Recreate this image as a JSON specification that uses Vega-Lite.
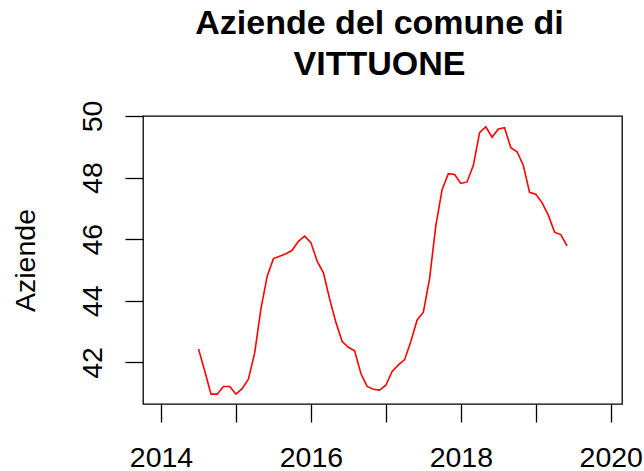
{
  "$schema": "https://vega.github.io/schema/vega-lite/v6.json",
  "width": 479,
  "height": 288,
  "autosize": {"type": "none"},
  "padding": {"left": 143, "top": 116, "right": 22, "bottom": 67},
  "background": "white",
  "title": {
    "text": ["Aziende del comune di", "VITTUONE"],
    "fontSize": 34,
    "fontWeight": "bold",
    "font": "Liberation Sans",
    "color": "black",
    "anchor": "middle",
    "frame": "group",
    "baseline": "bottom",
    "lineHeight": 41,
    "offset": -16,
    "dx": -3
  },
  "config": {
    "view": {"stroke": "black", "strokeWidth": 1.3},
    "axis": {
      "grid": false,
      "domain": false,
      "tickColor": "black",
      "tickWidth": 1.3,
      "tickSize": 18,
      "labelFont": "Liberation Sans",
      "labelFontSize": 28.5,
      "labelColor": "black",
      "titleFont": "Liberation Sans",
      "titleFontSize": 28.5,
      "titleFontWeight": "normal",
      "titleColor": "black"
    }
  },
  "data": {
    "values": [
      {"anno": 2014.5, "aziende": 42.44},
      {"anno": 2014.583, "aziende": 41.73},
      {"anno": 2014.667, "aziende": 40.97},
      {"anno": 2014.75, "aziende": 40.97},
      {"anno": 2014.833, "aziende": 41.22},
      {"anno": 2014.917, "aziende": 41.22},
      {"anno": 2015.0, "aziende": 40.97},
      {"anno": 2015.083, "aziende": 41.15},
      {"anno": 2015.167, "aziende": 41.46},
      {"anno": 2015.25, "aziende": 42.31},
      {"anno": 2015.333, "aziende": 43.74},
      {"anno": 2015.417, "aziende": 44.8},
      {"anno": 2015.5, "aziende": 45.37},
      {"anno": 2015.583, "aziende": 45.45},
      {"anno": 2015.667, "aziende": 45.53},
      {"anno": 2015.75, "aziende": 45.64},
      {"anno": 2015.833, "aziende": 45.93},
      {"anno": 2015.917, "aziende": 46.1},
      {"anno": 2016.0, "aziende": 45.89},
      {"anno": 2016.083, "aziende": 45.29},
      {"anno": 2016.167, "aziende": 44.91},
      {"anno": 2016.25, "aziende": 44.06},
      {"anno": 2016.333, "aziende": 43.3},
      {"anno": 2016.417, "aziende": 42.68},
      {"anno": 2016.5, "aziende": 42.49},
      {"anno": 2016.583, "aziende": 42.38},
      {"anno": 2016.667, "aziende": 41.64},
      {"anno": 2016.75, "aziende": 41.22},
      {"anno": 2016.833, "aziende": 41.13},
      {"anno": 2016.917, "aziende": 41.1},
      {"anno": 2017.0, "aziende": 41.26},
      {"anno": 2017.083, "aziende": 41.71},
      {"anno": 2017.167, "aziende": 41.92},
      {"anno": 2017.25, "aziende": 42.09},
      {"anno": 2017.333, "aziende": 42.68},
      {"anno": 2017.417, "aziende": 43.38},
      {"anno": 2017.5, "aziende": 43.63},
      {"anno": 2017.583, "aziende": 44.72},
      {"anno": 2017.667, "aziende": 46.45},
      {"anno": 2017.75, "aziende": 47.61},
      {"anno": 2017.833, "aziende": 48.13},
      {"anno": 2017.917, "aziende": 48.1},
      {"anno": 2018.0, "aziende": 47.81},
      {"anno": 2018.083, "aziende": 47.86},
      {"anno": 2018.167, "aziende": 48.4},
      {"anno": 2018.25, "aziende": 49.46},
      {"anno": 2018.333, "aziende": 49.65},
      {"anno": 2018.417, "aziende": 49.31},
      {"anno": 2018.5, "aziende": 49.58},
      {"anno": 2018.583, "aziende": 49.62},
      {"anno": 2018.667, "aziende": 48.97},
      {"anno": 2018.75, "aziende": 48.84},
      {"anno": 2018.833, "aziende": 48.4},
      {"anno": 2018.917, "aziende": 47.52},
      {"anno": 2019.0, "aziende": 47.46},
      {"anno": 2019.083, "aziende": 47.19},
      {"anno": 2019.167, "aziende": 46.78},
      {"anno": 2019.25, "aziende": 46.23},
      {"anno": 2019.333, "aziende": 46.15},
      {"anno": 2019.417, "aziende": 45.78}
    ]
  },
  "mark": {"type": "line", "color": "#ff0000", "strokeWidth": 1.6, "clip": true},
  "encoding": {
    "x": {
      "field": "anno",
      "type": "quantitative",
      "scale": {"domain": [2013.76, 2020.15], "nice": false, "zero": false},
      "axis": {
        "title": null,
        "values": [2014, 2015, 2016, 2017, 2018, 2019, 2020],
        "format": "d",
        "labelExpr": "datum.value % 2 === 0 ? datum.label : ''",
        "labelOverlap": false,
        "labelFlush": false,
        "labelBaseline": "alphabetic",
        "labelPadding": 44.5
      }
    },
    "y": {
      "field": "aziende",
      "type": "quantitative",
      "scale": {"domain": [40.65, 50.0], "nice": false, "zero": false},
      "axis": {
        "title": "Aziende",
        "values": [42, 44, 46, 48, 50],
        "format": "d",
        "labelAngle": -90,
        "labelAlign": "center",
        "labelBaseline": "alphabetic",
        "labelPadding": 23.6,
        "labelOverlap": false,
        "labelFlush": false,
        "titleAngle": -90,
        "titleAlign": "center",
        "titleBaseline": "alphabetic",
        "titleX": -109,
        "titleY": 144
      }
    }
  }
}
